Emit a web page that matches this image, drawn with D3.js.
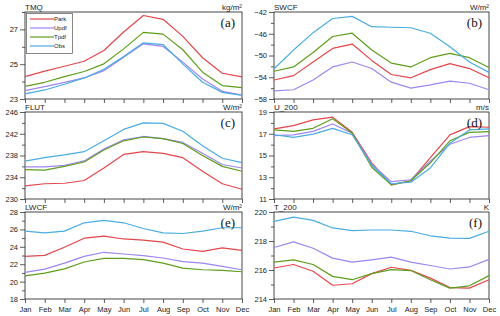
<!DOCTYPE html>
<html><head><meta charset="utf-8">
<script src="https://cdn.jsdelivr.net/npm/d3@7"></script>
<style>
html,body{margin:0;padding:0;background:#fff;}
svg{display:block;font-family:"Liberation Sans",Arial,sans-serif;}
</style></head>
<body><svg id="c" width="500" height="316"></svg>
<script>
const months = ["Jan","Feb","Mar","Apr","May","Jun","Jul","Aug","Sep","Oct","Nov","Dec"];
const seriesNames = ["Park","Updf","Tpdf","Obs"];
const seriesColors = ["#e2474c","#9d86f0","#5e9e1c","#4aace0"];

// (a) TMQ
const tmqPark = [24.29,24.6,24.88,25.17,25.79,26.85,27.8,27.58,26.6,25.37,24.48,24.27];
const tmqUpdf = [23.48,23.71,23.96,24.21,24.63,25.4,26.17,26.02,25.12,24.15,23.44,23.23];
const tmqTpdf = [23.73,23.96,24.29,24.58,25.02,25.88,26.83,26.73,25.83,24.54,23.77,23.65];
const tmqObs  = [23.29,23.52,23.85,24.21,24.71,25.44,26.23,26.13,25.02,23.96,23.38,23.21];
// (b) SWCF
const swcfPark = [-54.5,-53.7,-51.2,-48.7,-47.9,-50.9,-53.5,-54.1,-52.6,-51.5,-52.4,-54.1];
const swcfUpdf = [-56.5,-56.3,-54.5,-52.1,-51.2,-52.4,-54.9,-56.0,-55.4,-54.7,-55.1,-56.3];
const swcfTpdf = [-52.9,-52.1,-49.45,-46.5,-45.9,-49.0,-51.4,-52.1,-50.4,-49.6,-50.4,-52.2];
const swcfObs  = [-52.43,-49.0,-45.8,-43.2,-42.8,-44.7,-44.8,-44.9,-45.9,-48.4,-51.2,-53.1];
// (c) FLUT
const flutPark = [232.4,232.8,232.9,233.4,235.7,238.2,238.7,238.4,237.6,235.1,232.8,231.8];
const flutUpdf = [235.9,235.9,236.2,237.0,239.2,240.9,241.5,241.1,240.4,238.4,236.35,235.7];
const flutTpdf = [235.4,235.3,236.0,236.8,239.0,240.7,241.4,241.1,240.2,238.0,236.0,235.1];
const flutObs  = [236.97,237.6,238.1,238.7,240.7,242.8,244.0,243.9,242.45,239.8,237.5,236.7];
// (d) U_200
const uPark = [17.44,17.75,18.28,18.53,17.13,14.33,12.3,12.68,14.8,16.9,17.66,17.6];
const uUpdf = [16.82,16.9,17.22,17.9,17.04,14.17,12.6,12.77,14.48,16.03,16.66,16.82];
const uTpdf = [17.35,17.22,17.5,18.38,17.07,13.92,12.3,12.68,14.33,16.35,17.13,17.19];
const uObs  = [16.91,16.66,16.97,17.5,16.91,14.1,12.4,12.55,13.86,16.13,17.35,17.44];
// (e) LWCF
const lwcfPark = [22.9,23.02,23.95,24.99,25.22,24.9,24.76,24.53,23.75,23.48,23.87,23.6];
const lwcfUpdf = [21.05,21.44,22.13,22.9,23.37,23.17,22.98,22.71,22.29,22.13,21.75,21.36];
const lwcfTpdf = [20.66,20.97,21.47,22.25,22.67,22.67,22.52,22.13,21.55,21.36,21.28,21.13];
const lwcfObs  = [25.8,25.6,25.8,26.76,27.03,26.76,26.1,25.6,25.53,25.8,26.19,26.19];
// (f) T_200
const tPark = [216.14,216.38,215.91,214.95,215.05,215.75,216.19,215.98,215.44,214.79,214.75,215.33];
const tUpdf = [217.55,217.94,217.5,216.82,216.54,216.7,216.89,216.54,216.31,216.07,216.21,216.73];
const tTpdf = [216.54,216.7,216.38,215.56,215.33,215.75,216.03,215.96,215.33,214.75,214.91,215.61];
const tObs  = [219.35,219.65,219.42,218.9,218.71,218.76,218.76,218.67,218.36,218.2,218.18,218.67];

const panels = [
  {name:"TMQ", unit:"kg/m²", tag:"(a)", dom:[23,28], major:[23,25,27], minorStep:1, data:[tmqPark,tmqUpdf,tmqTpdf,tmqObs], legend:true},
  {name:"SWCF", unit:"W/m²", tag:"(b)", dom:[-58,-42], major:[-58,-54,-50,-46,-42], minorStep:2, data:[swcfPark,swcfUpdf,swcfTpdf,swcfObs]},
  {name:"FLUT", unit:"W/m²", tag:"(c)", dom:[230,246], major:[230,234,238,242,246], minorStep:2, data:[flutPark,flutUpdf,flutTpdf,flutObs]},
  {name:"U_200", unit:"m/s", tag:"(d)", dom:[11,19], major:[11,13,15,17,19], minorStep:1, data:[uPark,uUpdf,uTpdf,uObs]},
  {name:"LWCF", unit:"W/m²", tag:"(e)", dom:[18,28], major:[18,20,22,24,26,28], minorStep:1, data:[lwcfPark,lwcfUpdf,lwcfTpdf,lwcfObs], months:true},
  {name:"T_200", unit:"K", tag:"(f)", dom:[214,220], major:[214,216,218,220], minorStep:1, data:[tPark,tUpdf,tTpdf,tObs], months:true}
];

const svg = d3.select("#c");
const colX = [[25,242],[274,489]];
const rowY = [12,112,212];
const H = 87;

panels.forEach((p,i)=>{
  const [x0,x1] = colX[i%2];
  const top = rowY[Math.floor(i/2)];
  const bot = top + H;
  const x = d3.scaleLinear().domain([0,11]).range([x0,x1]);
  const y = d3.scaleLinear().domain(p.dom).range([bot,top]);
  const g = svg.append("g");

  // y axis major
  const yAx = d3.axisLeft(y).tickValues(p.major).tickSize(5).tickPadding(2).tickFormat(d3.format("d"));
  const ga = g.append("g").attr("transform",`translate(${x0},0)`).call(yAx);
  ga.select(".domain").remove();
  ga.selectAll("text").attr("font-size",7.5).attr("fill","#222").attr("font-family","Liberation Sans, Arial, sans-serif");
  ga.selectAll("line").attr("stroke","#333").attr("stroke-width",0.8);
  // minor
  const minors = d3.range(p.dom[0], p.dom[1]+1e-9, p.minorStep).filter(v=>!p.major.includes(v));
  const gm = g.append("g").attr("transform",`translate(${x0},0)`).call(d3.axisLeft(y).tickValues(minors).tickSize(3).tickFormat(""));
  gm.select(".domain").remove();
  gm.selectAll("line").attr("stroke","#333").attr("stroke-width",0.8);

  // x axis
  const xAx = d3.axisBottom(x).tickValues(d3.range(12)).tickSize(4).tickPadding(4)
    .tickFormat(p.months ? (d=>months[d]) : (()=>""));
  const gx = g.append("g").attr("transform",`translate(0,${bot})`).call(xAx);
  gx.select(".domain").remove();
  gx.selectAll("text").attr("font-size",7.5).attr("fill","#222");
  gx.selectAll("line").attr("stroke","#333").attr("stroke-width",0.8);

  // frame
  g.append("rect").attr("x",x0).attr("y",top).attr("width",x1-x0).attr("height",H)
    .attr("fill","none").attr("stroke","#333").attr("stroke-width",0.9);

  // lines
  const line = d3.line().x((d,j)=>x(j)).y(d=>y(d));
  p.data.forEach((s,k)=>{
    g.append("path").datum(s).attr("d",line).attr("fill","none")
      .attr("stroke",seriesColors[k]).attr("stroke-width",1.2).attr("stroke-linejoin","round");
  });

  // titles
  g.append("text").attr("x",x0).attr("y",top-2).attr("font-size",8).attr("fill","#222").text(p.name);
  g.append("text").attr("x",x1).attr("y",top-2).attr("text-anchor","end").attr("font-size",8).attr("fill","#222").text(p.unit);
  g.append("text").attr("x",x1-7).attr("y",top+15).attr("text-anchor","end")
    .attr("font-family","Liberation Serif, Times New Roman, serif").attr("font-size",13).attr("fill","#111").text(p.tag);

  if(p.legend){
    const lg = g.append("g");
    lg.append("rect").attr("x",x0+1.5).attr("y",top+1.5).attr("width",46).attr("height",40)
      .attr("fill","#fff").attr("stroke","#555").attr("stroke-width",0.7);
    seriesNames.forEach((n,k)=>{
      const yy = top + 7 + k*9;
      lg.append("line").attr("x1",x0+5).attr("x2",x0+29).attr("y1",yy).attr("y2",yy)
        .attr("stroke",seriesColors[k]).attr("stroke-width",1.2);
      lg.append("text").attr("x",x0+29).attr("y",yy+2).attr("font-size",6).attr("fill","#222").text(n);
    });
  }
});
</script></body></html>
